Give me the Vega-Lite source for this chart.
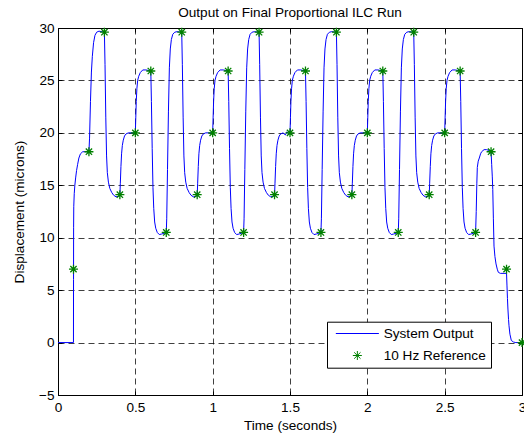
{
  "$schema": "https://vega.github.io/schema/vega-lite/v6.json",
  "width": 464,
  "height": 367,
  "autosize": "none",
  "padding": {"left": 58, "top": 28, "right": 2, "bottom": 38},
  "background": "white",
  "title": {"text": "Output on Final Proportional ILC Run", "font": "Liberation Sans", "fontSize": 13.6, "fontWeight": "normal", "color": "black", "anchor": "middle", "baseline": "alphabetic", "offset": -9.2},
  "config": {
    "view": {"stroke": "black", "strokeWidth": 1},
    "axis": {"grid": true, "gridColor": "#000000", "gridOpacity": 0.75, "gridDash": [6, 4], "gridWidth": 1, "ticks": true, "tickSize": -4, "tickColor": "black", "tickWidth": 1, "domain": false, "labelFont": "Liberation Sans", "labelFontSize": 13.6, "labelColor": "black", "titleFont": "Liberation Sans", "titleFontSize": 13.6, "titleFontWeight": "normal", "titleColor": "black", "labelFlush": false, "labelOverlap": false}
  },
  "resolve": {"axis": {"x": "independent", "y": "independent"}},
  "datasets": {
    "out": [
      {"t":0,"v":0},{"t":0.0995,"v":0},
      {"t":0.1,"v":0},{"t":0.1005,"v":6},{"t":0.101,"v":11},{"t":0.102,"v":13},{"t":0.105,"v":14.2},{"t":0.109,"v":15},{"t":0.114,"v":15.7},{"t":0.12,"v":16.4},{"t":0.127,"v":17},{"t":0.135,"v":17.6},{"t":0.145,"v":18},{"t":0.16,"v":18.2},
      {"t":0.2,"v":18.2},{"t":0.204,"v":19.5},{"t":0.21,"v":23},{"t":0.216,"v":25.8},{"t":0.222,"v":27.3},{"t":0.23,"v":28.6},{"t":0.239,"v":29.3},{"t":0.25,"v":29.6},{"t":0.265,"v":29.7},
      {"t":0.3,"v":29.6},{"t":0.304,"v":26.5},{"t":0.309,"v":21.5},{"t":0.314,"v":17.8},{"t":0.319,"v":16.2},{"t":0.326,"v":15.3},{"t":0.335,"v":14.7},{"t":0.348,"v":14.3},{"t":0.36,"v":14.05},{"t":0.375,"v":13.9},{"t":0.39,"v":13.95},
      {"t":0.4,"v":14},{"t":0.403,"v":15.2},{"t":0.407,"v":16.8},{"t":0.411,"v":18},{"t":0.416,"v":18.8},{"t":0.422,"v":19.3},{"t":0.43,"v":19.7},{"t":0.44,"v":19.9},{"t":0.455,"v":20},
      {"t":0.5,"v":20},{"t":0.503,"v":21.5},{"t":0.506,"v":23},{"t":0.51,"v":24.2},{"t":0.515,"v":25},{"t":0.522,"v":25.4},{"t":0.532,"v":25.75},{"t":0.548,"v":26},{"t":0.57,"v":26},
      {"t":0.6,"v":25.9},{"t":0.604,"v":23},{"t":0.609,"v":18.5},{"t":0.614,"v":14.8},{"t":0.619,"v":12.8},{"t":0.625,"v":11.5},{"t":0.632,"v":10.9},{"t":0.642,"v":10.5},{"t":0.655,"v":10.3},{"t":0.67,"v":10.35},
      {"t":0.7,"v":10.5},{"t":0.703,"v":11.8},{"t":0.708,"v":16.5},{"t":0.714,"v":22},{"t":0.72,"v":26.2},{"t":0.726,"v":28},{"t":0.733,"v":28.9},{"t":0.742,"v":29.4},{"t":0.755,"v":29.6},{"t":0.77,"v":29.65},
      {"t":0.8,"v":29.6},{"t":0.804,"v":26.5},{"t":0.809,"v":21.5},{"t":0.814,"v":17.8},{"t":0.819,"v":16.2},{"t":0.826,"v":15.3},{"t":0.835,"v":14.7},{"t":0.848,"v":14.3},{"t":0.86,"v":14.05},{"t":0.875,"v":13.9},{"t":0.89,"v":13.95},
      {"t":0.9,"v":14},{"t":0.903,"v":15.2},{"t":0.907,"v":16.8},{"t":0.911,"v":18},{"t":0.916,"v":18.8},{"t":0.922,"v":19.3},{"t":0.93,"v":19.7},{"t":0.94,"v":19.9},{"t":0.955,"v":20},
      {"t":1,"v":20},{"t":1.003,"v":21.5},{"t":1.006,"v":23},{"t":1.01,"v":24.2},{"t":1.015,"v":25},{"t":1.022,"v":25.4},{"t":1.032,"v":25.75},{"t":1.048,"v":26},{"t":1.07,"v":26},
      {"t":1.1,"v":25.9},{"t":1.104,"v":23},{"t":1.109,"v":18.5},{"t":1.114,"v":14.8},{"t":1.119,"v":12.8},{"t":1.125,"v":11.5},{"t":1.132,"v":10.9},{"t":1.142,"v":10.5},{"t":1.155,"v":10.3},{"t":1.17,"v":10.35},
      {"t":1.2,"v":10.5},{"t":1.203,"v":11.8},{"t":1.208,"v":16.5},{"t":1.214,"v":22},{"t":1.22,"v":26.2},{"t":1.226,"v":28},{"t":1.233,"v":28.9},{"t":1.242,"v":29.4},{"t":1.255,"v":29.6},{"t":1.27,"v":29.65},
      {"t":1.3,"v":29.6},{"t":1.304,"v":26.5},{"t":1.309,"v":21.5},{"t":1.314,"v":17.8},{"t":1.319,"v":16.2},{"t":1.326,"v":15.3},{"t":1.335,"v":14.7},{"t":1.348,"v":14.3},{"t":1.36,"v":14.05},{"t":1.375,"v":13.9},{"t":1.39,"v":13.95},
      {"t":1.4,"v":14},{"t":1.403,"v":15.2},{"t":1.407,"v":16.8},{"t":1.411,"v":18},{"t":1.416,"v":18.8},{"t":1.422,"v":19.3},{"t":1.43,"v":19.7},{"t":1.44,"v":19.9},{"t":1.455,"v":20},{"t":1.47,"v":19.8},{"t":1.48,"v":20.1},{"t":1.49,"v":19.9},
      {"t":1.5,"v":20},{"t":1.503,"v":21.5},{"t":1.506,"v":23},{"t":1.51,"v":24.2},{"t":1.515,"v":25},{"t":1.522,"v":25.4},{"t":1.532,"v":25.75},{"t":1.548,"v":26},{"t":1.57,"v":26},
      {"t":1.6,"v":25.9},{"t":1.604,"v":23},{"t":1.609,"v":18.5},{"t":1.614,"v":14.8},{"t":1.619,"v":12.8},{"t":1.625,"v":11.5},{"t":1.632,"v":10.9},{"t":1.642,"v":10.5},{"t":1.655,"v":10.3},{"t":1.67,"v":10.35},
      {"t":1.7,"v":10.5},{"t":1.703,"v":11.8},{"t":1.708,"v":16.5},{"t":1.714,"v":22},{"t":1.72,"v":26.2},{"t":1.726,"v":28},{"t":1.733,"v":28.9},{"t":1.742,"v":29.4},{"t":1.755,"v":29.6},{"t":1.77,"v":29.65},
      {"t":1.8,"v":29.6},{"t":1.804,"v":26.5},{"t":1.809,"v":21.5},{"t":1.814,"v":17.8},{"t":1.819,"v":16.2},{"t":1.826,"v":15.3},{"t":1.835,"v":14.7},{"t":1.848,"v":14.3},{"t":1.86,"v":14.05},{"t":1.875,"v":13.9},{"t":1.89,"v":13.95},
      {"t":1.9,"v":14},{"t":1.903,"v":15.2},{"t":1.907,"v":16.8},{"t":1.911,"v":18},{"t":1.916,"v":18.8},{"t":1.922,"v":19.3},{"t":1.93,"v":19.7},{"t":1.94,"v":19.9},{"t":1.955,"v":20},
      {"t":2,"v":20},{"t":2.003,"v":21.5},{"t":2.006,"v":23},{"t":2.01,"v":24.2},{"t":2.015,"v":25},{"t":2.022,"v":25.4},{"t":2.032,"v":25.75},{"t":2.048,"v":26},{"t":2.07,"v":26},
      {"t":2.1,"v":25.9},{"t":2.104,"v":23},{"t":2.109,"v":18.5},{"t":2.114,"v":14.8},{"t":2.119,"v":12.8},{"t":2.125,"v":11.5},{"t":2.132,"v":10.9},{"t":2.142,"v":10.5},{"t":2.155,"v":10.3},{"t":2.17,"v":10.35},
      {"t":2.2,"v":10.5},{"t":2.203,"v":11.8},{"t":2.208,"v":16.5},{"t":2.214,"v":22},{"t":2.22,"v":26.2},{"t":2.226,"v":28},{"t":2.233,"v":28.9},{"t":2.242,"v":29.4},{"t":2.255,"v":29.6},{"t":2.27,"v":29.65},
      {"t":2.3,"v":29.6},{"t":2.304,"v":26.5},{"t":2.309,"v":21.5},{"t":2.314,"v":17.8},{"t":2.319,"v":16.2},{"t":2.326,"v":15.3},{"t":2.335,"v":14.7},{"t":2.348,"v":14.3},{"t":2.36,"v":14.05},{"t":2.375,"v":13.9},{"t":2.39,"v":13.95},
      {"t":2.4,"v":14},{"t":2.403,"v":15.2},{"t":2.407,"v":16.8},{"t":2.411,"v":18},{"t":2.416,"v":18.8},{"t":2.422,"v":19.3},{"t":2.43,"v":19.7},{"t":2.44,"v":19.9},{"t":2.455,"v":20},
      {"t":2.5,"v":20},{"t":2.503,"v":21.5},{"t":2.506,"v":23},{"t":2.51,"v":24.2},{"t":2.515,"v":25},{"t":2.522,"v":25.4},{"t":2.532,"v":25.75},{"t":2.548,"v":26},{"t":2.57,"v":26},
      {"t":2.6,"v":25.9},{"t":2.604,"v":23},{"t":2.609,"v":18.5},{"t":2.614,"v":14.8},{"t":2.619,"v":12.8},{"t":2.625,"v":11.5},{"t":2.632,"v":10.9},{"t":2.642,"v":10.5},{"t":2.655,"v":10.3},{"t":2.67,"v":10.35},
      {"t":2.7,"v":10.5},{"t":2.704,"v":12.5},{"t":2.708,"v":15.2},{"t":2.711,"v":16.7},{"t":2.717,"v":17.3},{"t":2.724,"v":17.6},{"t":2.732,"v":18},{"t":2.739,"v":18.2},{"t":2.755,"v":18.4},{"t":2.771,"v":18.4},{"t":2.79,"v":18.3},
      {"t":2.8,"v":18.2},{"t":2.804,"v":17},{"t":2.808,"v":15.8},{"t":2.811,"v":14.6},{"t":2.815,"v":11.8},{"t":2.819,"v":9.2},{"t":2.825,"v":8.2},{"t":2.832,"v":7.5},{"t":2.84,"v":7},{"t":2.847,"v":6.7},{"t":2.86,"v":6.6},{"t":2.899,"v":6.6},
      {"t":2.9,"v":6.6},{"t":2.903,"v":5.4},{"t":2.906,"v":4.2},{"t":2.909,"v":3.2},{"t":2.913,"v":2.2},{"t":2.916,"v":1.6},{"t":2.922,"v":0.8},{"t":2.931,"v":0.2},{"t":2.945,"v":0.05},{"t":2.96,"v":0},{"t":3,"v":0}
    ],
    "ref": [
      {"t":0.1,"v":7},{"t":0.2,"v":18.2},{"t":0.3,"v":29.6},{"t":0.4,"v":14.1},{"t":0.5,"v":20},
      {"t":0.6,"v":25.9},{"t":0.7,"v":10.5},{"t":0.8,"v":29.6},{"t":0.9,"v":14.1},{"t":1.0,"v":20},
      {"t":1.1,"v":25.9},{"t":1.2,"v":10.5},{"t":1.3,"v":29.6},{"t":1.4,"v":14.1},{"t":1.5,"v":20},
      {"t":1.6,"v":25.9},{"t":1.7,"v":10.5},{"t":1.8,"v":29.6},{"t":1.9,"v":14.1},{"t":2.0,"v":20},
      {"t":2.1,"v":25.9},{"t":2.2,"v":10.5},{"t":2.3,"v":29.6},{"t":2.4,"v":14.1},{"t":2.5,"v":20},
      {"t":2.6,"v":25.9},{"t":2.7,"v":10.5},{"t":2.8,"v":18.2},{"t":2.9,"v":7},{"t":3.0,"v":0}
    ]
  },
  "layer": [
    {
      "data": {"name": "out"},
      "mark": {"type": "line", "strokeWidth": 1, "opacity": 1},
      "encoding": {
        "x": {"field": "t", "type": "quantitative", "scale": {"domain": [0, 3], "nice": false, "zero": false},
              "axis": {"values": [0, 0.5, 1, 1.5, 2, 2.5, 3], "format": "~g", "title": "Time (seconds)", "labelPadding": 9.5, "titlePadding": 4}},
        "y": {"field": "v", "type": "quantitative", "scale": {"domain": [-5, 30], "nice": false, "zero": false},
              "axis": {"values": [-5, 0, 5, 10, 15, 20, 25, 30], "title": "Displacement (microns)", "labelPadding": 8, "titlePadding": 12}},
        "color": {"datum": "System Output",
                  "scale": {"domain": ["System Output", "10 Hz Reference"], "range": ["#0000ff", "#008000"]},
                  "legend": {"orient": "none", "legendX": 269, "legendY": 293.7, "title": null, "padding": 5, "symbolOffset": 18.55, "labelOffset": 19.55, "rowPadding": 7, "strokeColor": "black", "fillColor": "white", "symbolSize": 81, "symbolStrokeWidth": 1, "labelFont": "Liberation Sans", "labelFontSize": 13.6, "labelColor": "black", "labelLimit": 300, "cornerRadius": 0,
                             "encode": {"symbols": {"update": {"stroke": {"scale": "color", "field": "value"}, "fill": {"value": "transparent"}, "opacity": {"value": 1}}}}}}
      }
    },
    {
      "data": {"name": "ref"},
      "mark": {"type": "point", "filled": false, "size": 81, "strokeWidth": 1.3, "opacity": 1},
      "encoding": {
        "x": {"field": "t", "type": "quantitative",
              "axis": {"orient": "top", "values": [0, 0.5, 1, 1.5, 2, 2.5, 3], "labels": false, "title": null, "grid": false}},
        "y": {"field": "v", "type": "quantitative",
              "axis": {"orient": "right", "values": [-5, 0, 5, 10, 15, 20, 25, 30], "labels": false, "title": null, "grid": false}},
        "color": {"datum": "10 Hz Reference",
                  "scale": {"domain": ["System Output", "10 Hz Reference"], "range": ["#0000ff", "#008000"]}},
        "shape": {"datum": "10 Hz Reference",
                  "scale": {"domain": ["System Output", "10 Hz Reference"], "range": ["M-4.78,0L4.78,0", "M-1,0L1,0M0,-1L0,1M-0.7,-0.7L0.7,0.7M-0.7,0.7L0.7,-0.7"]},
                  "legend": {"orient": "none", "legendX": 269, "legendY": 293.7, "title": null, "padding": 5, "symbolOffset": 18.55, "labelOffset": 19.55, "rowPadding": 7, "strokeColor": "black", "fillColor": "white", "symbolSize": 81, "symbolStrokeWidth": 1, "labelFont": "Liberation Sans", "labelFontSize": 13.6, "labelColor": "black", "labelLimit": 300, "cornerRadius": 0,
                             "encode": {"symbols": {"update": {"stroke": {"scale": "color", "field": "value"}, "fill": {"value": "transparent"}, "opacity": {"value": 1}}}}}}
      }
    }
  ]
}
